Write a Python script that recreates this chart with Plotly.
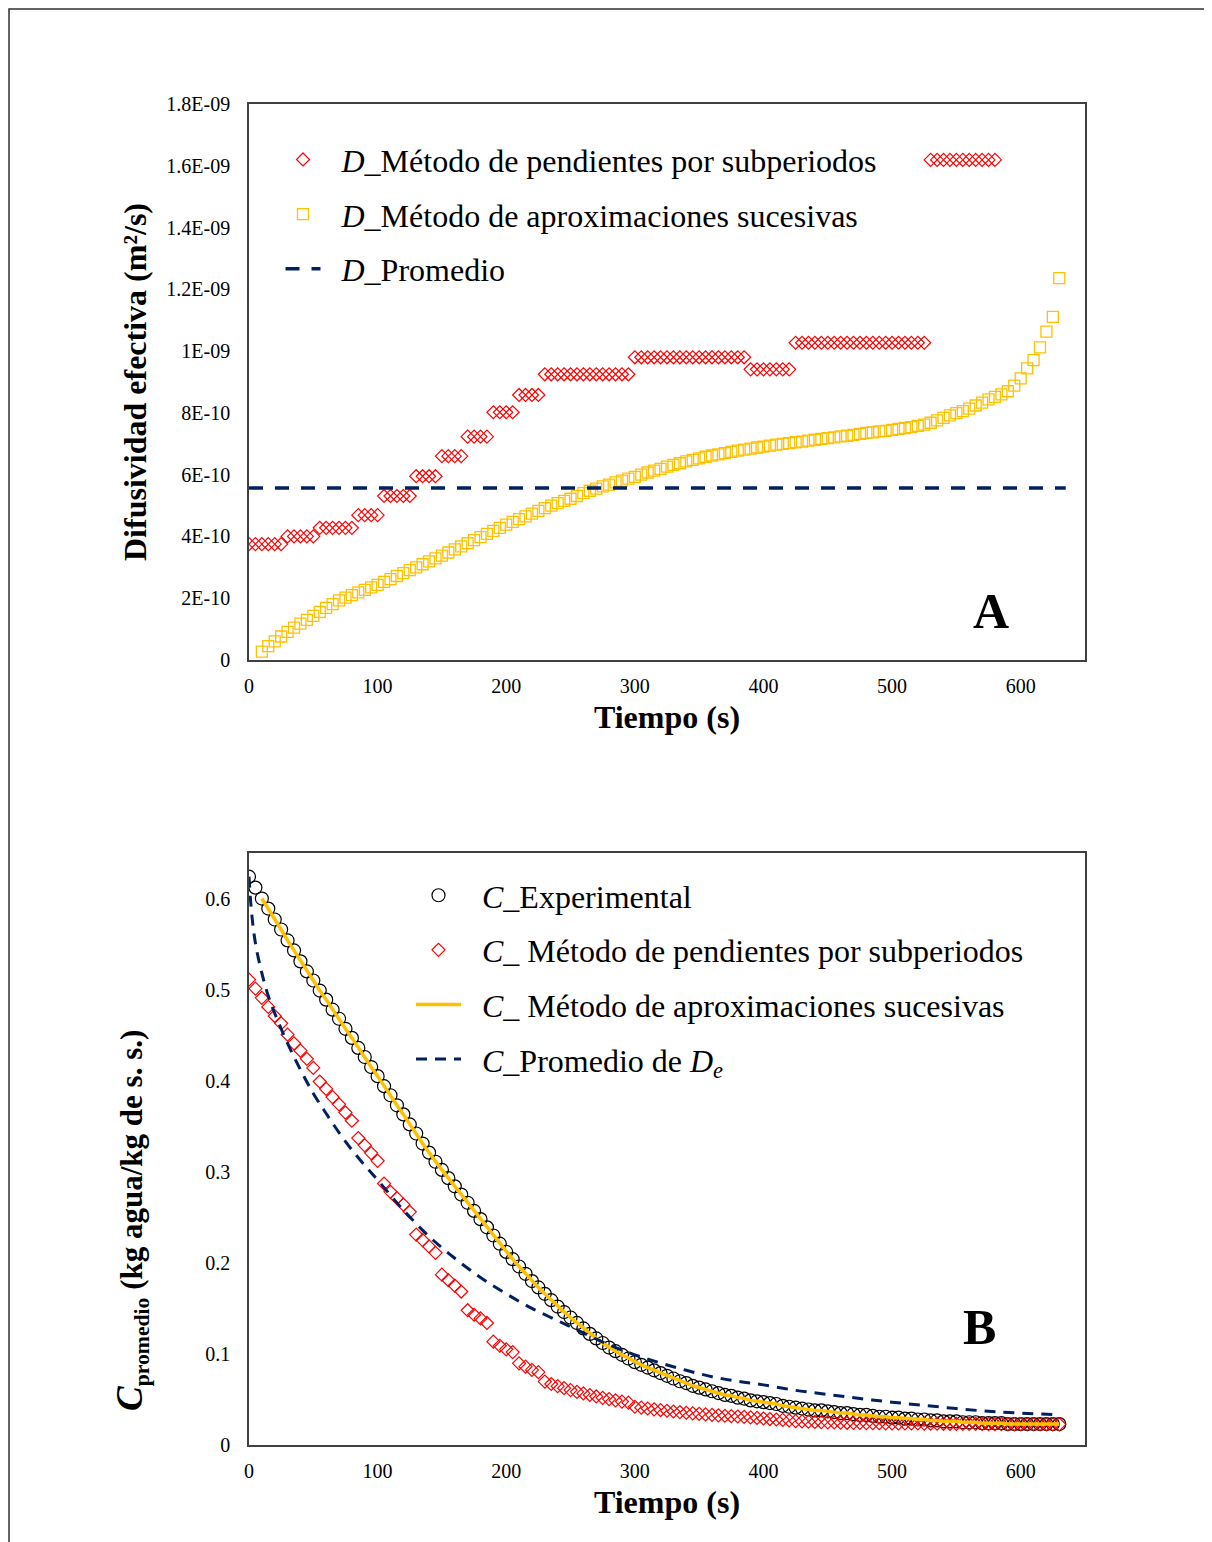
import plotly.graph_objects as go

# ---------------- Panel A data (D in units of 1e-10 m2/s) ----------------
t_pend_a = list(range(0, 585, 5))
d_pend = [
    3.75, 3.75, 3.75, 3.75, 3.75, 3.75,
    4.00, 4.00, 4.00, 4.00, 4.00,
    4.28, 4.28, 4.28, 4.28, 4.28, 4.28,
    4.69, 4.69, 4.69, 4.69,
    5.31, 5.31, 5.31, 5.31, 5.31,
    5.95, 5.95, 5.95, 5.95,
    6.60, 6.60, 6.60, 6.60,
    7.23, 7.23, 7.23, 7.23,
    8.02, 8.02, 8.02, 8.02,
    8.58, 8.58, 8.58, 8.58,
    9.25, 9.25, 9.25, 9.25, 9.25, 9.25, 9.25, 9.25, 9.25, 9.25, 9.25, 9.25, 9.25, 9.25,
    9.80, 9.80, 9.80, 9.80, 9.80, 9.80, 9.80, 9.80, 9.80, 9.80, 9.80, 9.80, 9.80, 9.80,
    9.80, 9.80, 9.80, 9.80,
    9.41, 9.41, 9.41, 9.41, 9.41, 9.41, 9.41,
    10.27, 10.27, 10.27, 10.27, 10.27, 10.27, 10.27, 10.27, 10.27, 10.27, 10.27,
    10.27, 10.27, 10.27, 10.27, 10.27, 10.27, 10.27, 10.27, 10.27, 10.27,
    16.19, 16.19, 16.19, 16.19, 16.19, 16.19, 16.19, 16.19, 16.19, 16.19, 16.19,
]

t_aprox_a = list(range(10, 635, 5))
d_aprox = [
    0.27, 0.45, 0.60, 0.76, 0.91, 1.05, 1.18, 1.30, 1.43, 1.56,
    1.69, 1.81, 1.93, 2.02, 2.10, 2.19, 2.27, 2.35, 2.43, 2.53,
    2.62, 2.72, 2.81, 2.91, 3.00, 3.10, 3.19, 3.29, 3.38, 3.48,
    3.58, 3.68, 3.78, 3.88, 3.98, 4.08, 4.18, 4.28, 4.38, 4.47,
    4.56, 4.65, 4.74, 4.83, 4.92, 5.00, 5.08, 5.15, 5.22, 5.31,
    5.40, 5.48, 5.55, 5.62, 5.68, 5.75, 5.81, 5.87, 5.93, 6.00,
    6.07, 6.13, 6.19, 6.26, 6.32, 6.37, 6.43, 6.48, 6.53, 6.58,
    6.62, 6.66, 6.70, 6.74, 6.78, 6.81, 6.84, 6.88, 6.91, 6.94,
    6.97, 7.00, 7.02, 7.05, 7.07, 7.10, 7.13, 7.16, 7.18, 7.21,
    7.24, 7.26, 7.29, 7.32, 7.35, 7.37, 7.40, 7.42, 7.45, 7.48,
    7.51, 7.54, 7.58, 7.62, 7.68, 7.76, 7.84, 7.92, 7.99, 8.06,
    8.14, 8.24, 8.33, 8.44, 8.52, 8.60, 8.70, 8.88, 9.12, 9.44,
    9.71, 10.12, 10.63, 11.11, 12.36,
]

t_prom_a = [0, 635]
d_prom = [5.57, 5.57]

y_ticks_a = [0, 2, 4, 6, 8, 10, 12, 14, 16, 18]
y_ticktext_a = ["0", "2E-10", "4E-10", "6E-10", "8E-10", "1E-09",
                "1.2E-09", "1.4E-09", "1.6E-09", "1.8E-09"]
x_ticks = [0, 100, 200, 300, 400, 500, 600]

# ---------------- Panel B data (kg agua / kg s.s.) ----------------
t_exp = list(range(0, 635, 5))
c_exp = [
    0.624, 0.612, 0.600, 0.589, 0.577, 0.566, 0.554, 0.543, 0.531, 0.520,
    0.510, 0.499, 0.489, 0.478, 0.468, 0.457, 0.447, 0.436, 0.426, 0.415,
    0.405, 0.394, 0.384, 0.373, 0.363, 0.352, 0.342, 0.331, 0.321, 0.311,
    0.302, 0.293, 0.284, 0.275, 0.266, 0.257, 0.248, 0.239, 0.230, 0.221,
    0.212, 0.204, 0.196, 0.188, 0.180, 0.173, 0.166, 0.159, 0.152, 0.146,
    0.140, 0.134, 0.128, 0.122, 0.117, 0.112, 0.107, 0.103, 0.099, 0.095,
    0.091, 0.088, 0.085, 0.082, 0.079, 0.076, 0.073, 0.070, 0.068, 0.065,
    0.063, 0.061, 0.059, 0.057, 0.055, 0.054, 0.052, 0.051, 0.049, 0.048,
    0.047, 0.046, 0.045, 0.043, 0.042, 0.041, 0.040, 0.039, 0.038, 0.038,
    0.037, 0.036, 0.035, 0.035, 0.034, 0.033, 0.033, 0.032, 0.031, 0.031,
    0.030, 0.030, 0.029, 0.029, 0.028, 0.028, 0.027, 0.027, 0.026, 0.026,
    0.026, 0.025, 0.025, 0.025, 0.024, 0.024, 0.024, 0.024, 0.023, 0.023,
    0.023, 0.023, 0.023, 0.023, 0.023, 0.023, 0.023,
]

t_pend_b = list(range(0, 635, 5))
c_pend = [
    0.511, 0.501, 0.491, 0.481, 0.471, 0.463,
    0.4505, 0.441, 0.433, 0.424, 0.414,
    0.399, 0.391, 0.382, 0.374, 0.365, 0.356,
    0.337, 0.329, 0.3205, 0.312,
    0.287, 0.278, 0.271, 0.264, 0.256,
    0.231, 0.225, 0.218, 0.211,
    0.187, 0.181, 0.175, 0.1685,
    0.148, 0.143, 0.139, 0.134,
    0.1135, 0.109, 0.105, 0.102,
    0.0897, 0.086, 0.0824, 0.080,
    0.0696, 0.0670, 0.0646, 0.0624, 0.0603, 0.0584, 0.0566, 0.0549, 0.0533, 0.0518,
    0.0504, 0.0490, 0.0477, 0.0465,
    0.0420, 0.0410, 0.0401, 0.0392, 0.0384, 0.0376, 0.0368, 0.0361, 0.0354, 0.0348,
    0.0342, 0.0336, 0.0331, 0.0326, 0.0321, 0.0317, 0.0313, 0.0309,
    0.0303, 0.0297, 0.0291, 0.0285, 0.0280, 0.0275, 0.0270,
    0.0262, 0.0259, 0.0256, 0.0253, 0.0251, 0.0249, 0.0247, 0.0245, 0.0244, 0.0243,
    0.0242, 0.0241, 0.0240, 0.0239, 0.0238, 0.0238, 0.0237, 0.0237, 0.0236, 0.0236,
    0.0235,
    0.0234, 0.0234, 0.0233, 0.0233, 0.0232, 0.0232, 0.0231, 0.0231, 0.0231, 0.0230,
    0.0230, 0.0230, 0.0229, 0.0229, 0.0229, 0.0228, 0.0228, 0.0228, 0.0228, 0.0227,
    0.0227,
]

t_aprox_b = t_exp[2:]
c_aprox = c_exp[2:]

t_prom_b = [0, 2, 5, 10, 15, 20, 30, 40, 50, 60, 70, 80, 90, 100,
            120, 140, 160, 180, 200, 220, 240, 260, 280, 300, 320, 340, 360, 380, 400,
            425, 450, 475, 500, 525, 550, 575, 600, 630]
c_prom = [0.624, 0.585, 0.551, 0.518, 0.493, 0.474, 0.441, 0.412, 0.386, 0.364,
          0.343, 0.324, 0.307, 0.291,
          0.258, 0.229, 0.205, 0.184, 0.166, 0.150, 0.1365, 0.123, 0.110, 0.099,
          0.090, 0.082, 0.075, 0.070, 0.066,
          0.060, 0.0555, 0.051, 0.047, 0.0435, 0.040, 0.037, 0.035, 0.033]

y_ticks_b = [0, 0.1, 0.2, 0.3, 0.4, 0.5, 0.6]
y_ticktext_b = ["0", "0.1", "0.2", "0.3", "0.4", "0.5", "0.6"]

# ---------------- Styling ----------------
FONT = "Liberation Serif"
RED = "#FF0000"
YEL = "#FFC000"
NAVY = "#002060"
AXC = "#404040"
NB = "\u00a0\u00a0"   # small lead-in gap between legend symbol and text

fig = go.Figure()

# Panel A
fig.add_trace(go.Scatter(
    x=t_pend_a, y=d_pend, mode="markers", xaxis="x", yaxis="y",
    name=NB + "<i>D</i>_Método de pendientes por subperiodos", legend="legend",
    legendgroup="a1",
    marker=dict(symbol="diamond-open", size=10, color=RED, line=dict(width=1.2))))
fig.add_trace(go.Scatter(
    x=t_aprox_a, y=d_aprox, mode="markers", xaxis="x", yaxis="y",
    name=NB + "<i>D</i>_Método de aproximaciones sucesivas", legend="legend",
    legendgroup="a2",
    marker=dict(symbol="square-open", size=11, color=YEL, line=dict(width=1.3))))
fig.add_trace(go.Scatter(
    x=t_prom_a, y=d_prom, mode="lines", xaxis="x", yaxis="y",
    name=NB + "<i>D</i>_Promedio", legend="legend", legendgroup="a3",
    line=dict(color=NAVY, width=3.5, dash="14px,12px")))

# Panel B
fig.add_trace(go.Scatter(
    x=t_exp, y=c_exp, mode="markers", xaxis="x2", yaxis="y2",
    name=NB + "<i>C</i>_Experimental", legend="legend2", legendgroup="b1",
    marker=dict(symbol="circle-open", size=13, color="black", line=dict(width=1.2))))
fig.add_trace(go.Scatter(
    x=t_pend_b, y=c_pend, mode="markers", xaxis="x2", yaxis="y2",
    name=NB + "<i>C</i>_ Método de pendientes por subperiodos", legend="legend2",
    legendgroup="b2",
    marker=dict(symbol="diamond-open", size=10, color=RED, line=dict(width=1.2))))
fig.add_trace(go.Scatter(
    x=t_aprox_b, y=c_aprox, mode="lines", xaxis="x2", yaxis="y2",
    name=NB + "<i>C</i>_ Método de aproximaciones sucesivas", legend="legend2",
    legendgroup="b3",
    line=dict(color=YEL, width=3.5)))
fig.add_trace(go.Scatter(
    x=t_prom_b, y=c_prom, mode="lines", xaxis="x2", yaxis="y2",
    name=NB + "<i>C</i>_Promedio de <i>D<sub>e</sub></i>", legend="legend2",
    legendgroup="b4", line_shape="spline",
    line=dict(color=NAVY, width=3, dash="11px,8px")))

axis_common = dict(showline=True, mirror=True, linecolor=AXC, linewidth=1.5,
                   showgrid=False, zeroline=False, ticks="",
                   tickfont=dict(family=FONT, size=20, color="black"))

title_font = dict(family=FONT, size=32, color="black")

# plot area spans page x 249..1085 and the two panels y 104..660 / 853..1445
L, W, T, H = 249, 836, 104, 1341


def px_x(p):
    return (p - L) / W


def px_y(p):
    return 1 - (p - T) / H


fig.update_layout(
    width=1212, height=1542,
    margin=dict(l=L - 8, r=1212 - (L - 8) - W, t=T - 8, b=1542 - (T - 8) - H),
    paper_bgcolor="white", plot_bgcolor="white",
    font=dict(family=FONT, color="black"),
    showlegend=True,
    xaxis=dict(domain=[0, 1], anchor="y", range=[0, 650], tickvals=x_ticks,
               ticklabelstandoff=7,
               title=dict(text="<b>Tiempo (s)</b>", font=title_font, standoff=10),
               **axis_common),
    yaxis=dict(domain=[px_y(660), 1], anchor="x", range=[0, 18],
               tickvals=y_ticks_a, ticktext=y_ticktext_a, ticklabelstandoff=13,
               title=dict(text="<b>Difusividad efectiva (m²/s)</b>", font=title_font,
                          standoff=10),
               **axis_common),
    xaxis2=dict(domain=[0, 1], anchor="y2", range=[0, 650], tickvals=x_ticks,
                ticklabelstandoff=7,
                title=dict(text="<b>Tiempo (s)</b>", font=title_font, standoff=10),
                **axis_common),
    yaxis2=dict(domain=[0, px_y(853)], anchor="x2", range=[0, 0.65],
                tickvals=y_ticks_b, ticktext=y_ticktext_b, ticklabelstandoff=13,
                **axis_common),
    legend=dict(x=px_x(280.5), y=0.979, xanchor="left", yanchor="top",
                font=dict(family=FONT, size=32, color="black"),
                bgcolor="rgba(0,0,0,0)", tracegroupgap=10, itemwidth=35,
                itemclick=False, itemdoubleclick=False),
    legend2=dict(x=px_x(411), y=0.4303, xanchor="left", yanchor="top",
                 font=dict(family=FONT, size=32, color="black"),
                 bgcolor="rgba(0,0,0,0)", tracegroupgap=10, itemwidth=45,
                 itemclick=False, itemdoubleclick=False),
    annotations=[
        dict(text="<b>A</b>", x=0.911, y=0.035, xref="x domain", yref="y domain",
             showarrow=False, font=dict(family=FONT, size=50, color="black")),
        dict(text="<b>B</b>", x=0.896, y=0.149, xref="x2 domain", yref="y2 domain",
             showarrow=False, font=dict(family=FONT, size=50, color="black")),
        dict(text="<b><span style='font-size:37px'><i>C</i></span>"
                  "<sub>promedio</sub> (kg agua/kg de s. s.)</b>",
             textangle=-90, x=px_x(131), y=px_y(1221), xref="paper", yref="paper",
             xanchor="center", yanchor="middle",
             showarrow=False, font=dict(family=FONT, size=31, color="black")),
    ],
    shapes=[
        dict(type="rect", xref="paper", yref="paper",
             x0=px_x(9), x1=px_x(1230), y0=px_y(1560), y1=px_y(9),
             line=dict(color="#303030", width=1.5), fillcolor="rgba(0,0,0,0)",
             layer="below"),
    ],
)

fig.write_html("out.html")
